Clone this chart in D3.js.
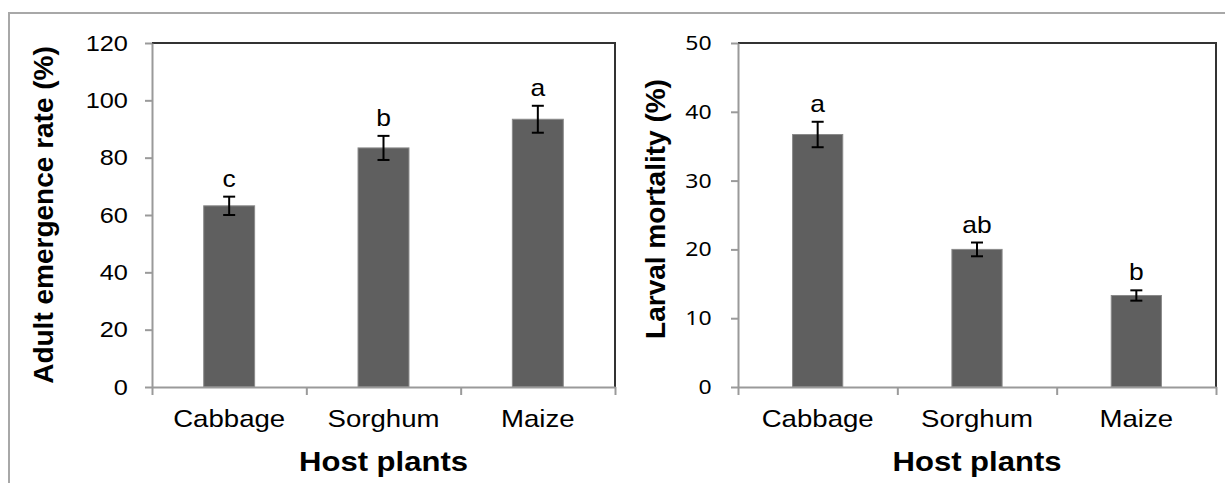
<!DOCTYPE html>
<html>
<head>
<meta charset="utf-8">
<script src="https://cdn.jsdelivr.net/npm/d3@7"></script>
<style>
  body { margin: 0; background: #fff; }
  svg { display: block; }
</style>
</head>
<body>
<svg id="chart" width="1225" height="483"></svg>
<script>
// host plants on the x axis
const hosts = ["Cabbage", "Sorghum", "Maize"];

// panel 1: adult emergence rate (%)
const emergence = [63.2, 83.4, 93.4];
const emergenceErr = [3.2, 4.2, 4.7];
const emergenceLetters = ["c", "b", "a"];
const emergenceTicks = [0, 20, 40, 60, 80, 100, 120];

// panel 2: larval mortality (%)
const mortality = [36.7, 20.0, 13.3];
const mortalityErr = [1.85, 1.0, 0.75];
const mortalityLetters = ["a", "ab", "b"];
const mortalityTicks = [0, 10, 20, 30, 40, 50];

const svg = d3.select("#chart");
const stretch = 1.15; // text in the picture is a bit wide

// outer grey frame
svg.append("path")
    .attr("d", "M9,483 V13 H1225")
    .attr("fill", "none")
    .attr("stroke", "#a8a8a8")
    .attr("stroke-width", 2);

function drawPanel(opt) {
    const g = svg.append("g");
    const x = d3.scaleBand().domain(hosts).range([opt.x0, opt.x1]);
    const xb = d3.scaleLinear().domain([0, hosts.length]).range([opt.x0, opt.x1]);
    const y = d3.scaleLinear().domain([0, opt.max]).range([387, 43]);

    // top and right frame of the plot
    g.append("path")
        .attr("d", `M${opt.x0},${y(opt.max)} H${opt.x1} V${y(0)}`)
        .attr("fill", "none")
        .attr("stroke", "#333")
        .attr("stroke-width", 2);

    // bars
    g.selectAll("rect.bar")
        .data(opt.values)
        .enter().append("rect")
        .attr("class", "bar")
        .attr("x", (d, i) => x(hosts[i]) + x.bandwidth() * (1 - opt.barRatio) / 2)
        .attr("width", x.bandwidth() * opt.barRatio)
        .attr("y", d => y(d))
        .attr("height", d => y(0) - y(d))
        .attr("fill", "#5f5f5f")
        .attr("stroke", "#8a8a8a")
        .attr("stroke-width", 1);

    // y axis
    const yAxis = g.append("g")
        .attr("transform", `translate(${opt.x0},0)`)
        .call(d3.axisLeft(y).tickValues(opt.ticks).tickSize(7).tickPadding(opt.tickPad).tickSizeOuter(0));
    yAxis.select(".domain").attr("stroke", "#9a9a9a").attr("stroke-width", 2);
    yAxis.selectAll(".tick line").attr("stroke", "#9a9a9a").attr("stroke-width", 2);
    yAxis.selectAll(".tick text")
        .attr("transform", `scale(${stretch},1)`)
        .attr("fill", "#000")
        .style("font-family", opt.tickFont)
        .style("font-size", opt.tickSize + "px");

    // x axis: ticks between categories
    const xAxis = g.append("g")
        .attr("transform", `translate(0,${y(0)})`)
        .call(d3.axisBottom(xb).tickValues([0, 1, 2, 3]).tickFormat("").tickSize(8).tickSizeOuter(0));
    xAxis.select(".domain").attr("stroke", "#9a9a9a").attr("stroke-width", 2);
    xAxis.selectAll(".tick line").attr("stroke", "#9a9a9a").attr("stroke-width", 2);

    // category labels
    const xLab = g.append("g")
        .attr("transform", `translate(0,${y(0)})`)
        .call(d3.axisBottom(x).tickSize(0).tickPadding(23));
    xLab.select(".domain").remove();
    xLab.selectAll(".tick text")
        .attr("transform", `scale(${stretch},1)`)
        .attr("fill", "#000")
        .style("font-family", "'Liberation Sans', Arial, sans-serif")
        .style("font-size", "24px");

    // error bars
    const eb = g.append("g").attr("stroke", "#000").attr("stroke-width", 2);
    opt.values.forEach((v, i) => {
        const cx = x(hosts[i]) + x.bandwidth() / 2;
        const hi = y(v + opt.errs[i]), lo = y(v - opt.errs[i]);
        eb.append("line").attr("x1", cx).attr("x2", cx).attr("y1", hi).attr("y2", lo);
        eb.append("line").attr("x1", cx - 6).attr("x2", cx + 6).attr("y1", hi).attr("y2", hi);
        eb.append("line").attr("x1", cx - 6).attr("x2", cx + 6).attr("y1", lo).attr("y2", lo);
    });

    // significance letters
    g.selectAll("text.letter")
        .data(opt.letters)
        .enter().append("text")
        .attr("class", "letter")
        .attr("text-anchor", "middle")
        .attr("transform", (d, i) => `translate(${x(hosts[i]) + x.bandwidth() / 2},${y(opt.values[i] + opt.errs[i]) - 10}) scale(${stretch},1)`)
        .style("font-family", "'Liberation Sans', Arial, sans-serif")
        .style("font-size", "23px")
        .text(d => d);

    // axis titles
    g.append("text")
        .attr("text-anchor", "middle")
        .attr("transform", `translate(${(opt.x0 + opt.x1) / 2},471) scale(${stretch},1)`)
        .style("font-family", "'Liberation Sans', Arial, sans-serif")
        .style("font-size", "27px")
        .style("font-weight", "bold")
        .text("Host plants");

    g.append("text")
        .attr("text-anchor", "middle")
        .attr("transform", `translate(${opt.titleX},${(43 + 387) / 2 + opt.titleDy}) rotate(-90)`)
        .style("font-family", "'Liberation Sans', Arial, sans-serif")
        .style("font-size", "28px")
        .style("font-weight", "bold")
        .text(opt.title);
}

drawPanel({
    x0: 152, x1: 615, max: 120, ticks: emergenceTicks,
    values: emergence, errs: emergenceErr, letters: emergenceLetters,
    barRatio: 0.33, tickPad: 14, tickFont: "'Liberation Sans', Arial, sans-serif", tickSize: 22,
    title: "Adult emergence rate (%)", titleX: 53, titleDy: 0
});

drawPanel({
    x0: 738, x1: 1216, max: 50, ticks: mortalityTicks,
    values: mortality, errs: mortalityErr, letters: mortalityLetters,
    barRatio: 0.315, tickPad: 16, tickFont: "'Noto Sans', sans-serif", tickSize: 20,
    title: "Larval mortality (%)", titleX: 665, titleDy: -6
});
</script>
</body>
</html>
